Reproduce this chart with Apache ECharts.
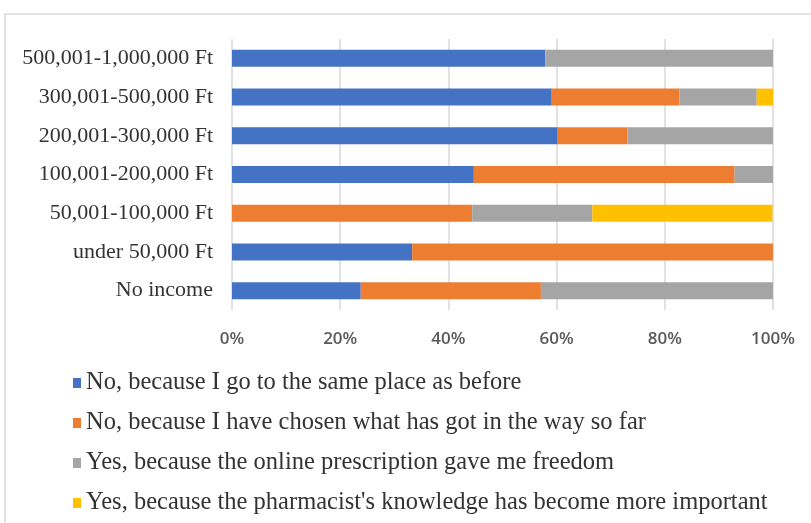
<!DOCTYPE html>
<html>
<head>
<meta charset="utf-8">
<script src="https://cdn.jsdelivr.net/npm/echarts@6/dist/echarts.min.js"></script>
<style>
  html, body { margin: 0; padding: 0; background: #ffffff; }
  #chart { width: 811px; height: 523px; }
</style>
</head>
<body>
<div id="chart"></div>
<script>
// Income groups, listed bottom to top as the category axis draws them
const incomeGroups = [
  'No income',
  'under 50,000 Ft',
  '50,001-100,000 Ft',
  '100,001-200,000 Ft',
  '200,001-300,000 Ft',
  '300,001-500,000 Ft',
  '500,001-1,000,000 Ft'
];

const seriesNames = [
  'No, because I go to the same place as before',
  'No, because I have chosen what has got in the way so far',
  'Yes, because the online prescription gave me freedom',
  "Yes, because the pharmacist's knowledge has become more important"
];

// Share of respondents (%) per income group
const samePlace      = [23.8, 33.3, 0,    44.7, 60.2, 59.1, 57.9];
const chosenSoFar    = [33.3, 66.7, 44.4, 48.2, 12.9, 23.6, 0];
const onlineFreedom  = [42.9, 0,    22.2, 7.1,  26.9, 14.3, 42.1];
const pharmacistKnow = [0,    0,    33.3, 0,    0,    3.0,  0];

const percentTicks = [0, 20, 40, 60, 80, 100];

const colors = ['#4472C4', '#ED7D31', '#A5A5A5', '#FFC000'];
const values = [samePlace, chosenSoFar, onlineFreedom, pharmacistKnow];

const chart = echarts.init(document.getElementById('chart'), null, { renderer: 'canvas' });

chart.setOption({
  animation: false,
  backgroundColor: '#ffffff',
  color: colors,
  graphic: [{
    type: 'rect',
    shape: { x: 5, y: 14, width: 900, height: 600 },
    style: { fill: 'none', stroke: '#d9d9d9', lineWidth: 1.5 },
    silent: true
  }],
  grid: { left: 232, right: 38, top: 39, bottom: 213 },
  xAxis: {
    type: 'value',
    min: percentTicks[0],
    max: percentTicks[percentTicks.length - 1],
    interval: 20,
    axisLine: { show: false },
    axisTick: { show: false },
    splitLine: { show: true, lineStyle: { color: '#d9d9d9', width: 1.5 } },
    axisLabel: {
      formatter: '{value}%',
      margin: 21,
      color: '#595959',
      fontFamily: 'Open Sans',
      fontWeight: 600,
      fontSize: 17
    }
  },
  yAxis: {
    type: 'category',
    data: incomeGroups,
    axisLine: { show: false },
    axisTick: { show: false },
    axisLabel: {
      margin: 19,
      color: '#333333',
      fontFamily: 'Liberation Serif',
      fontWeight: 'normal',
      fontSize: 22
    }
  },
  legend: {
    orient: 'vertical',
    left: 73,
    top: 370,
    height: 152,
    padding: 0,
    itemWidth: 8,
    itemHeight: 10,
    itemGap: 14,
    icon: 'rect',
    data: seriesNames,
    textStyle: {
      color: '#333333',
      fontFamily: 'Liberation Serif',
      fontSize: 24.5,
      lineHeight: 26
    }
  },
  series: seriesNames.map((name, i) => ({
    name: name,
    type: 'bar',
    stack: 'total',
    barWidth: 17,
    data: values[i],
    itemStyle: { color: colors[i] }
  }))
});
</script>
</body>
</html>
